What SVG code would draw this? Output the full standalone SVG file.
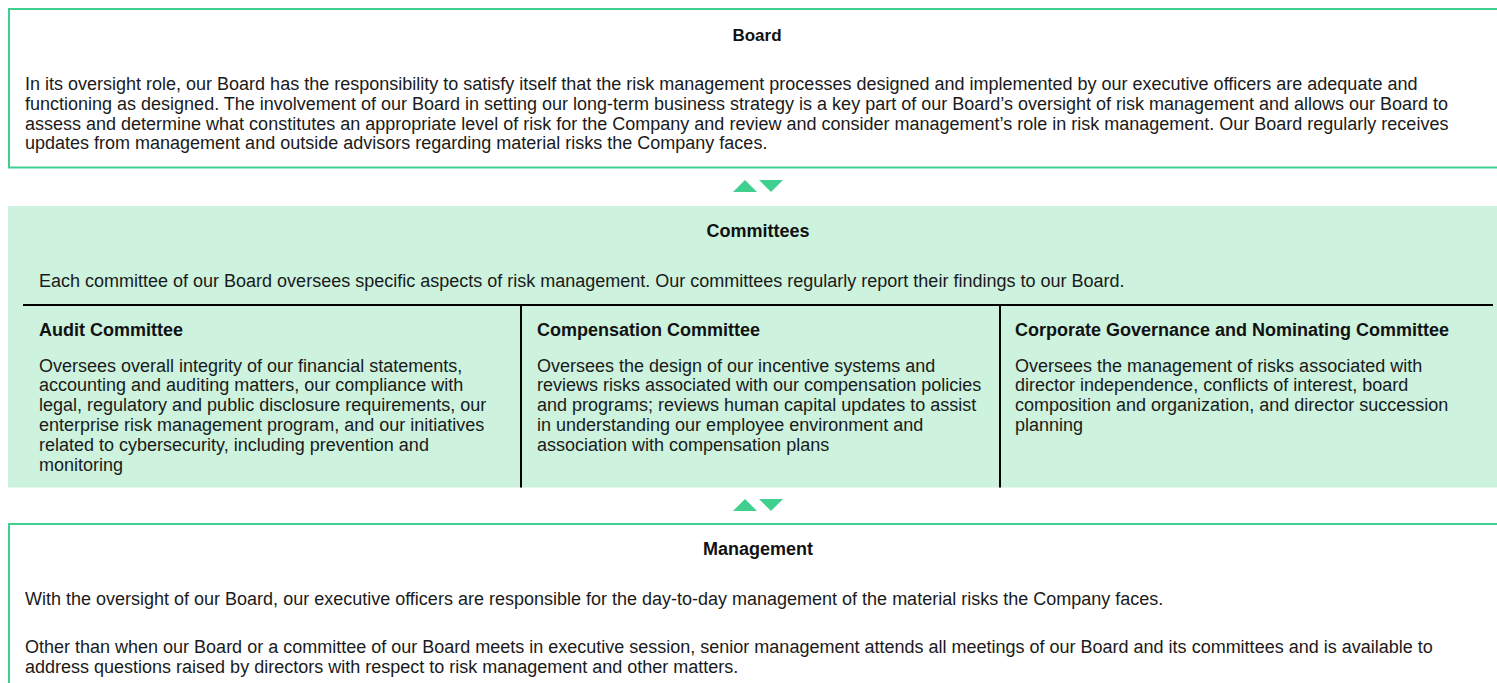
<svg xmlns="http://www.w3.org/2000/svg" width="1497" height="683" viewBox="0 0 1497 683">
<style>
.t{font-family:"Liberation Sans",Arial,sans-serif;font-size:18px;fill:#1a1a1a}
.h{font-family:"Liberation Sans",Arial,sans-serif;font-size:18px;font-weight:bold;fill:#111}
.hs{font-size:17px}
.c{text-anchor:middle}
.box{fill:#fff;stroke:#3fd08f;stroke-width:2}
.band{fill:#cdf2de}
.rule{stroke:#000;stroke-width:2;fill:none}
.tri{fill:#3fcf8e}
</style>
<rect width="1497" height="683" fill="#fff"/>
<g id="board">
<rect class="box" x="9" y="9" width="1500" height="158.5"/>
<text class="h hs c" x="757" y="40.5">Board</text>
<text class="t" x="25" y="90">In its oversight role, our Board has the responsibility to satisfy itself that the risk management processes designed and implemented by our executive officers are adequate and</text>
<text class="t" x="25" y="109.8">functioning as designed. The involvement of our Board in setting our long-term business strategy is a key part of our Board’s oversight of risk management and allows our Board to</text>
<text class="t" x="25" y="129.6">assess and determine what constitutes an appropriate level of risk for the Company and review and consider management’s role in risk management. Our Board regularly receives</text>
<text class="t" x="25" y="149.4">updates from management and outside advisors regarding material risks the Company faces.</text>
</g>
<g id="committees">
<rect class="band" x="8" y="206" width="1489" height="281.5"/>
<text class="h c" x="758" y="237">Committees</text>
<text class="t" x="39" y="287">Each committee of our Board oversees specific aspects of risk management. Our committees regularly report their findings to our Board.</text>
<line class="rule" x1="23" y1="305" x2="1493" y2="305"/>
<line class="rule" x1="521" y1="305" x2="521" y2="487.5"/>
<line class="rule" x1="1000" y1="305" x2="1000" y2="487.5"/>
</g>
<g id="audit">
<text class="h" x="39" y="335.5">Audit Committee</text>
<text class="t" x="39" y="371.5">Oversees overall integrity of our financial statements,</text>
<text class="t" x="39" y="391.3">accounting and auditing matters, our compliance with</text>
<text class="t" x="39" y="411.1">legal, regulatory and public disclosure requirements, our</text>
<text class="t" x="39" y="430.9">enterprise risk management program, and our initiatives</text>
<text class="t" x="39" y="450.7">related to cybersecurity, including prevention and</text>
<text class="t" x="39" y="470.5">monitoring</text>
</g>
<g id="compensation">
<text class="h" x="537" y="335.5">Compensation Committee</text>
<text class="t" x="537" y="371.5">Oversees the design of our incentive systems and</text>
<text class="t" x="537" y="391.3">reviews risks associated with our compensation policies</text>
<text class="t" x="537" y="411.1">and programs; reviews human capital updates to assist</text>
<text class="t" x="537" y="430.9">in understanding our employee environment and</text>
<text class="t" x="537" y="450.7">association with compensation plans</text>
</g>
<g id="governance">
<text class="h" x="1015" y="335.5">Corporate Governance and Nominating Committee</text>
<text class="t" x="1015" y="371.5">Oversees the management of risks associated with</text>
<text class="t" x="1015" y="391.3">director independence, conflicts of interest, board</text>
<text class="t" x="1015" y="411.1">composition and organization, and director succession</text>
<text class="t" x="1015" y="430.9">planning</text>
</g>
<g id="management">
<rect class="box" x="9" y="524" width="1500" height="170"/>
<text class="h c" x="758" y="555">Management</text>
<text class="t" x="25" y="605">With the oversight of our Board, our executive officers are responsible for the day-to-day management of the material risks the Company faces.</text>
<text class="t" x="25" y="653.3">Other than when our Board or a committee of our Board meets in executive session, senior management attends all meetings of our Board and its committees and is available to</text>
<text class="t" x="25" y="673.1">address questions raised by directors with respect to risk management and other matters.</text>
</g>
<g id="connectors">
<polygon class="tri" points="733,192 745,180 757,192"/>
<polygon class="tri" points="759,180 783,180 771,192"/>
<polygon class="tri" points="733,511 745,499 757,511"/>
<polygon class="tri" points="759,499 783,499 771,511"/>
</g>
</svg>
